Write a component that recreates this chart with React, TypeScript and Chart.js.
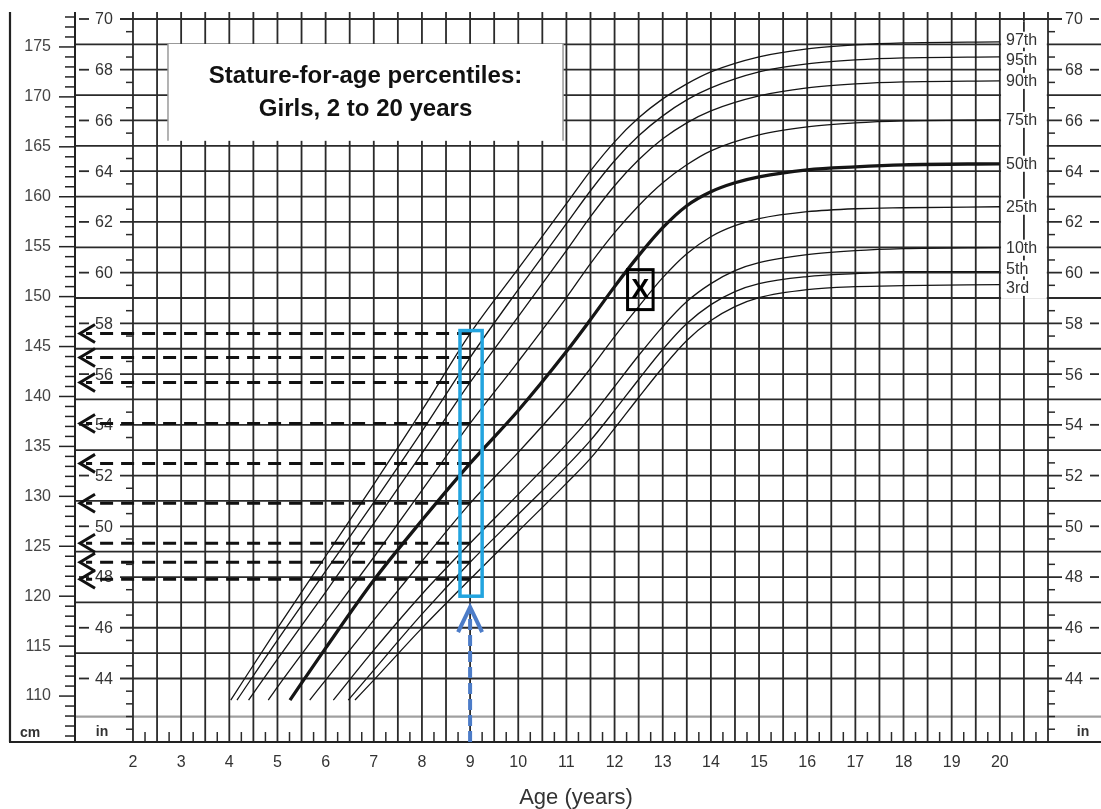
import React, { useEffect, useRef } from 'react';
import { Chart, registerables } from 'chart.js';

Chart.register(...registerables);

const FONT = '"Liberation Sans", Arial, Helvetica, sans-serif';
const GRID = '#2a2a2a';
const TEXT = '#333333';

// ---- data (stature in cm by age in years) ----
const percentileLabels = ['97th', '95th', '90th', '75th', '50th', '25th', '10th', '5th', '3rd'];

const p97Age = [4.03, 5, 6, 7, 8, 9, 10, 11, 11.5, 12, 12.5, 13, 13.5, 14, 15, 16, 17, 18, 20];
const p97Cm = [109.6, 116.8, 124.0, 131.2, 138.6, 146.3, 152.8, 159.3, 162.6, 165.5, 167.9, 169.8, 171.3, 172.5, 174.0, 174.8, 175.2, 175.4, 175.5];

const p95Age = [4.16, 5, 6, 7, 8, 9, 10, 11, 11.5, 12, 12.5, 13, 13.5, 14, 15, 16, 17, 18, 20];
const p95Cm = [109.6, 115.6, 122.5, 129.4, 136.5, 143.9, 150.7, 157.3, 160.6, 163.6, 166.1, 168.1, 169.7, 170.9, 172.5, 173.3, 173.7, 173.9, 174.0];

const p90Age = [4.4, 5, 6, 7, 8, 9, 10, 11, 11.5, 12, 12.5, 13, 13.5, 14, 15, 16, 17, 18, 20];
const p90Cm = [109.6, 113.7, 120.4, 127.3, 134.3, 141.4, 148.0, 154.6, 158.0, 161.1, 163.7, 165.8, 167.4, 168.6, 170.1, 170.9, 171.3, 171.5, 171.6];

const p75Age = [4.81, 5, 6, 7, 8, 9, 10, 11, 11.5, 12, 12.5, 13, 13.5, 14, 15, 16, 17, 18, 20];
const p75Cm = [109.6, 110.9, 117.4, 123.9, 130.6, 137.3, 143.5, 149.9, 153.3, 156.4, 159.1, 161.4, 163.2, 164.6, 166.2, 167.0, 167.4, 167.6, 167.7];

const p50Age = [5.26, 6, 7, 8, 9, 10, 11, 11.5, 12, 12.5, 13, 13.5, 14, 14.5, 15, 16, 17, 18, 20];
const p50Cm = [109.6, 114.8, 121.6, 127.6, 133.3, 138.6, 144.5, 147.7, 151.0, 154.1, 156.9, 159.1, 160.5, 161.4, 162.0, 162.7, 163.0, 163.2, 163.3];

const p25Age = [5.67, 6, 7, 8, 9, 10, 11, 11.5, 12, 12.5, 13, 13.5, 14, 14.5, 15, 16, 17, 18, 20];
const p25Cm = [109.6, 111.6, 117.6, 123.5, 129.3, 134.4, 139.8, 142.8, 146.0, 149.0, 151.9, 154.3, 156.0, 157.1, 157.8, 158.5, 158.8, 158.9, 159.0];

const p10Age = [6.16, 7, 8, 9, 10, 11, 11.5, 12, 12.5, 13, 13.5, 14, 14.5, 15, 16, 17, 18, 20];
const p10Cm = [109.6, 114.6, 120.2, 125.3, 130.2, 135.2, 137.9, 141.0, 144.1, 147.0, 149.5, 151.3, 152.6, 153.4, 154.2, 154.6, 154.8, 154.9];

const p5Age = [6.47, 7, 8, 9, 10, 11, 11.5, 12, 12.5, 13, 13.5, 14, 14.5, 15, 16, 17, 18, 20];
const p5Cm = [109.6, 112.6, 118.2, 123.4, 128.2, 133.0, 135.6, 138.6, 141.7, 144.7, 147.3, 149.2, 150.5, 151.3, 152.0, 152.3, 152.5, 152.5];

const p3Age = [6.61, 7, 8, 9, 10, 11, 11.5, 12, 12.5, 13, 13.5, 14, 14.5, 15, 16, 17, 18, 20];
const p3Cm = [109.6, 111.6, 116.8, 121.7, 126.5, 131.3, 133.8, 136.8, 139.9, 142.9, 145.6, 147.6, 149.0, 149.9, 150.7, 151.0, 151.1, 151.2];

const ageTickLabels = [2, 3, 4, 5, 6, 7, 8, 9, 10, 11, 12, 13, 14, 15, 16, 17, 18, 19, 20];
const cmTickLabels = [110, 115, 120, 125, 130, 135, 140, 145, 150, 155, 160, 165, 170, 175];
const inchTickLabels = [44, 46, 48, 50, 52, 54, 56, 58, 60, 62, 64, 66, 68, 70];

const titleLines = ['Stature-for-age percentiles:', 'Girls, 2 to 20 years'];
const xAxisTitle = 'Age (years)';

// annotation values
const readAge = 9;
const readBoxAges = [8.79, 9.25];
const readBoxCm = [146.6, 120.0];
const upArrowTipCm = 118.9;
const markAges = [12.27, 12.8];
const markCm = [152.7, 148.7];

const series: [number[], number[]][] = [
  [p97Age, p97Cm], [p95Age, p95Cm], [p90Age, p90Cm], [p75Age, p75Cm], [p50Age, p50Cm],
  [p25Age, p25Cm], [p10Age, p10Cm], [p5Age, p5Cm], [p3Age, p3Cm],
];

function valueAt(ages: number[], cms: number[], a: number) {
  for (let i = 0; i < ages.length - 1; i++) {
    if (a >= ages[i] && a <= ages[i + 1]) {
      const t = (a - ages[i]) / (ages[i + 1] - ages[i]);
      return cms[i] + t * (cms[i + 1] - cms[i]);
    }
  }
  return cms[cms.length - 1];
}

const growthPlugin = {
  id: 'growthPlugin',
  beforeDatasetsDraw(chart: any) {
    const { ctx, chartArea: ca, scales } = chart;
    const px = (a: number) => scales.x.getPixelForValue(a);
    const py = (v: number) => scales.y.getPixelForValue(v);
    const pin = (i: number) => py(i * 2.54);
    const W = chart.width;
    const seg = (x1: number, y1: number, x2: number, y2: number) => {
      ctx.beginPath(); ctx.moveTo(x1, y1); ctx.lineTo(x2, y2); ctx.stroke();
    };
    ctx.save();
    ctx.lineCap = 'butt';

    // grey boundary line above the unit row
    ctx.strokeStyle = '#a0a0a0'; ctx.lineWidth = 2.2;
    seg(ca.left, pin(42.5), W, pin(42.5));

    // horizontal inch lines
    ctx.strokeStyle = GRID; ctx.lineWidth = 1.8;
    for (let i = 44; i <= 70; i++) {
      const yy = pin(i);
      if (i % 2 === 1) {
        seg(ca.left, yy, W, yy);
      } else {
        seg(ca.left + 4, yy, ca.left + 14, yy);
        seg(ca.left + 45, yy, ca.right + 14, yy);
        seg(ca.right + 42, yy, ca.right + 51, yy);
      }
    }
    // half-inch ticks
    ctx.lineWidth = 1.5;
    const halfs = [42, 43];
    for (let n = 42; n < 70; n++) halfs.push(n + 0.5);
    for (const h of halfs) {
      const yy = pin(h);
      seg(px(2) - 7, yy, px(2), yy);
      seg(ca.right, yy, ca.right + 7, yy);
    }

    // vertical half-year lines
    ctx.lineWidth = 1.8;
    for (let a = 2; a <= 21.001; a += 0.5) seg(px(a), ca.top, px(a), ca.bottom);
    // quarter-year ticks
    ctx.lineWidth = 1.5;
    for (let a = 2.25; a <= 20.8; a += 0.5) seg(px(a), ca.bottom, px(a), ca.bottom - 10);

    // cm axis
    ctx.strokeStyle = '#222'; ctx.lineWidth = 2;
    seg(ca.left, ca.top, ca.left, ca.bottom);
    ctx.lineWidth = 1.5;
    for (let c = 106; c <= 178; c++) {
      const len = c % 5 === 0 ? 16 : 10;
      seg(ca.left - len, py(c), ca.left, py(c));
    }
    // frame
    ctx.lineWidth = 2.2;
    seg(ca.left - 65, ca.top, ca.left - 65, ca.bottom);
    seg(ca.left - 66, ca.bottom, W, ca.bottom);

    // inch labels, left (inside) and right
    ctx.fillStyle = TEXT;
    ctx.font = `16px ${FONT}`;
    ctx.textBaseline = 'middle';
    ctx.textAlign = 'center';
    for (const v of inchTickLabels) ctx.fillText(String(v), ca.left + 29, pin(v) + 1);
    ctx.textAlign = 'left';
    for (const v of inchTickLabels) ctx.fillText(String(v), ca.right + 17, pin(v) + 1);

    // unit labels
    ctx.textAlign = 'center';
    ctx.font = `bold 14px ${FONT}`;
    ctx.fillText('cm', ca.left - 45, ca.bottom - 9);
    ctx.fillText('in', ca.left + 27, ca.bottom - 10);
    ctx.fillText('in', ca.right + 35, ca.bottom - 10);

    // title box
    const bx1 = px(2.727), bx2 = px(10.93), by1 = py(175.3), by2 = py(165.6);
    ctx.fillStyle = '#ffffff';
    ctx.fillRect(bx1, by1, bx2 - bx1, by2 - by1);
    ctx.strokeStyle = '#9a9a9a'; ctx.lineWidth = 1.5;
    seg(bx1, by1, bx1, by2);
    seg(bx2, by1, bx2, by2);
    ctx.fillStyle = '#111';
    ctx.font = `bold 24px ${FONT}`;
    const cx = (bx1 + bx2) / 2;
    ctx.fillText(titleLines[0], cx, by1 + 32);
    ctx.fillText(titleLines[1], cx, by1 + 65);

    // percentile label column
    const colL = px(20) + 1.2, colR = px(21) - 1.2;
    const ly = series.map(([, cms]) => py(cms[cms.length - 1]));
    for (let it = 0; it < 30; it++) {
      for (let i = 1; i < ly.length; i++) {
        const gap = 19.5;
        if (ly[i] - ly[i - 1] < gap) {
          const d = (gap - (ly[i] - ly[i - 1])) / 2;
          ly[i - 1] -= d; ly[i] += d;
        }
      }
    }
    ctx.fillStyle = '#ffffff';
    ctx.fillRect(colL, ly[0] - 18, colR - colL, ly[ly.length - 1] + 11 - (ly[0] - 18));
    ctx.strokeStyle = GRID; ctx.lineWidth = 1.8;
    seg(px(20.5), ly[0] - 18, px(20.5), ly[ly.length - 1] + 11);
    ctx.font = `16px ${FONT}`;
    ctx.textAlign = 'left';
    percentileLabels.forEach((lab, i) => {
      const w = ctx.measureText(lab).width;
      ctx.fillStyle = '#ffffff';
      ctx.fillRect(colL + 3, ly[i] - 8, w + 4, 16);
      ctx.fillStyle = TEXT;
      ctx.fillText(lab, colL + 5, ly[i] + 1);
    });

    // x axis title
    ctx.fillStyle = TEXT;
    ctx.font = `22px ${FONT}`;
    ctx.textAlign = 'center';
    ctx.fillText(xAxisTitle, px(11.2), ca.bottom + 56);
    ctx.restore();
  },
  afterDatasetsDraw(chart: any) {
    const { ctx, chartArea: ca, scales } = chart;
    const px = (a: number) => scales.x.getPixelForValue(a);
    const py = (v: number) => scales.y.getPixelForValue(v);
    ctx.save();
    // dashed read-off arrows
    const tipX = px(0.9);
    ctx.strokeStyle = '#111'; ctx.lineWidth = 3;
    series.forEach(([ages, cms]) => {
      const yy = py(valueAt(ages, cms, readAge));
      ctx.setLineDash([13, 8]);
      ctx.beginPath(); ctx.moveTo(px(readAge), yy); ctx.lineTo(tipX + 6, yy); ctx.stroke();
      ctx.setLineDash([]);
      ctx.beginPath(); ctx.moveTo(tipX + 15, yy - 9); ctx.lineTo(tipX, yy); ctx.lineTo(tipX + 15, yy + 9); ctx.stroke();
    });
    // blue read box
    ctx.strokeStyle = '#22a4df'; ctx.lineWidth = 3.5;
    const rx1 = px(readBoxAges[0]), rx2 = px(readBoxAges[1]);
    const ry1 = py(readBoxCm[0]), ry2 = py(readBoxCm[1]);
    ctx.strokeRect(rx1, ry1, rx2 - rx1, ry2 - ry1);
    // blue up arrow
    const ax = px(readAge), tipY = py(upArrowTipCm);
    ctx.strokeStyle = '#4c7cc8'; ctx.lineWidth = 4;
    ctx.setLineDash([11, 5]);
    ctx.beginPath(); ctx.moveTo(ax, ca.bottom); ctx.lineTo(ax, tipY + 4); ctx.stroke();
    ctx.setLineDash([]);
    ctx.beginPath(); ctx.moveTo(ax - 12, tipY + 25); ctx.lineTo(ax, tipY); ctx.lineTo(ax + 12, tipY + 25); ctx.stroke();
    // X marker box
    const mx1 = px(markAges[0]), mx2 = px(markAges[1]);
    const my1 = py(markCm[0]), my2 = py(markCm[1]);
    ctx.strokeStyle = '#000'; ctx.lineWidth = 3;
    ctx.strokeRect(mx1, my1, mx2 - mx1, my2 - my1);
    ctx.fillStyle = '#000';
    ctx.font = `bold 27px ${FONT}`;
    ctx.textAlign = 'center'; ctx.textBaseline = 'middle';
    ctx.fillText('X', (mx1 + mx2) / 2, (my1 + my2) / 2 + 1);
    ctx.restore();
  },
};

export default function App() {
  const ref = useRef<HTMLCanvasElement>(null);
  useEffect(() => {
    const canvas = ref.current;
    if (!canvas) return;
    const datasets = series.map(([ages, cms], i) => ({
      label: percentileLabels[i],
      data: ages.map((a, j) => ({ x: a, y: cms[j] })),
      borderColor: '#151515',
      borderWidth: i === 4 ? 3.3 : 1.3,
      pointRadius: 0,
      cubicInterpolationMode: 'monotone' as const,
      fill: false,
    }));
    const chart = new Chart(canvas, {
      type: 'line',
      data: { datasets },
      options: {
        animation: false,
        responsive: false,
        layout: { padding: { top: 12, left: 0, right: 53, bottom: 0 } },
        plugins: { legend: { display: false }, tooltip: { enabled: false } },
        scales: {
          x: {
            type: 'linear', min: 0.796, max: 21,
            grid: { display: false, drawTicks: false }, border: { display: false },
            ticks: {
              stepSize: 1, autoSkip: false, maxRotation: 0, maxTicksLimit: 100, padding: 11,
              color: TEXT, font: { family: FONT, size: 16 },
              callback: (v: any) => (ageTickLabels.includes(Number(v)) ? String(v) : ''),
            },
            afterFit: (s: any) => { s.height = 67; s.paddingLeft = 0; s.paddingRight = 0; },
          },
          y: {
            type: 'linear', position: 'left', min: 105.4, max: 178.5,
            grid: { display: false, drawTicks: false }, border: { display: false },
            ticks: {
              stepSize: 5, autoSkip: false, maxTicksLimit: 100, padding: 24,
              color: '#444', font: { family: FONT, size: 16 },
              callback: (v: any) => (cmTickLabels.includes(Number(v)) ? String(v) : ''),
            },
            afterFit: (s: any) => { s.width = 75; s.paddingTop = 0; s.paddingBottom = 0; },
          },
        },
      } as any,
      plugins: [growthPlugin],
    });
    return () => chart.destroy();
  }, []);
  return (
    <div style={{ position: 'absolute', left: 0, top: 0, width: 1101, height: 809, background: '#fff' }}>
      <canvas ref={ref} width={1101} height={809} style={{ display: 'block', width: 1101, height: 809 }} />
    </div>
  );
}
